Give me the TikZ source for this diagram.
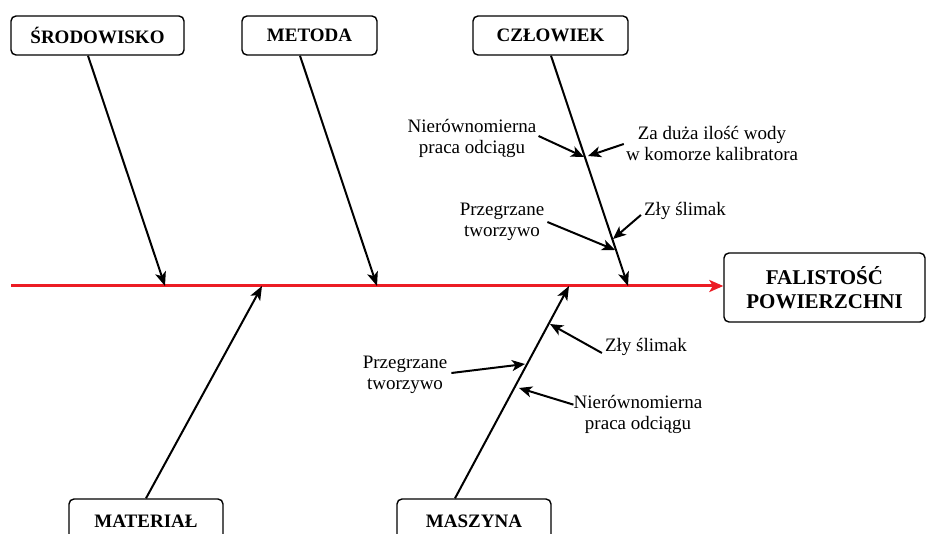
\documentclass[tikz,border=0pt]{standalone}
\usepackage{fontspec}
\setmainfont{LiberationSerif}[Extension=.ttf, UprightFont=*-Regular, BoldFont=*-Bold, ItalicFont=*-Italic, BoldItalicFont=*-BoldItalic]
\usetikzlibrary{arrows.meta,calc}
\definecolor{spinered}{RGB}{236,28,36}
\tikzset{
  x=1pt, y=-1pt,
  catbox/.style={draw, line width=1.4pt, rounded corners=5pt, inner sep=0pt,
    font=\fontsize{19}{21}\selectfont\bfseries, align=center},
  effectbox/.style={catbox, font=\fontsize{21}{24}\selectfont\bfseries},
  cause/.style={font=\fontsize{19}{21}\selectfont, align=center, inner sep=0pt},
  bone/.style={line width=2pt, -{Stealth[length=14pt,width=11pt,inset=3.5pt]}},
  twig/.style={line width=2pt, -{Stealth[length=13pt,width=11pt,inset=3.5pt]}},
  spine/.style={line width=3pt, spinered, -{Stealth[length=14pt,width=12pt,inset=3.5pt]}}
}
\begin{document}
\begin{tikzpicture}
\useasboundingbox (0,0) rectangle (926,534);
\clip (0,0) rectangle (926,534);

% category boxes
\node[catbox, minimum width=173pt, minimum height=39pt] (srod) at (97.5,35.5) {ŚRODOWISKO};
\node[catbox, minimum width=135pt, minimum height=39pt] (met) at (309.5,35.5) {METODA};
\node[catbox, minimum width=155pt, minimum height=39pt] (czl) at (550.5,35.5) {CZŁOWIEK};
\node[catbox, minimum width=154pt, minimum height=44pt] (mat) at (146,521) {MATERIAŁ};
\node[catbox, minimum width=154pt, minimum height=44pt] (masz) at (474,521) {MASZYNA};

% effect box
\node[effectbox, minimum width=201pt, minimum height=69pt] (eff) at (824.5,287.5) {FALISTOŚĆ\\POWIERZCHNI};

% main spine
\coordinate (tail) at (11,286);
\draw[spine] (tail) -- (eff.west |- tail);

% junctions on the spine
\coordinate (jS) at (165,286);
\coordinate (jMe) at (377,286);
\coordinate (jC) at (628,286);
\coordinate (jMa) at (262,286);
\coordinate (jMz) at (569,286);

% bones
\draw[bone] ([xshift=-9.5pt]srod.south) -- (jS);
\draw[bone] ([xshift=-9.5pt]met.south) -- (jMe);
\draw[bone] ([xshift=0.5pt]czl.south) -- (jC);
\draw[bone] ([xshift=0pt]mat.north) -- (jMa);
\draw[bone] ([xshift=-19pt]masz.north) -- (jMz);

% causes on the CZŁOWIEK bone
\node[cause] (c1) at (472,138) {Nierównomierna\\praca odciągu};
\node[cause] (c2) at (712,143) {Za duża ilość wody\\w komorze kalibratora};
\node[cause] (c3) at (502,222) {Przegrzane\\tworzywo};
\node[cause] (c4) at (685,211) {Zły ślimak};
\coordinate (t1) at (584,157);
\coordinate (t2) at (588,156);
\coordinate (t3) at (615,250);
\coordinate (t4) at (613,239);
\draw[twig] ([xshift=2pt,yshift=2pt]c1.east) -- (t1);
\draw[twig] ([xshift=-2pt,yshift=-1pt]c2.west) -- (t2);
\draw[twig] ([xshift=3pt]c3.east) -- (t3);
\draw[twig] ([xshift=-3pt,yshift=-4pt]c4.west) -- (t4);

% causes on the MASZYNA bone
\node[cause] (d1) at (646,347) {Zły ślimak};
\node[cause] (d2) at (405,375) {Przegrzane\\tworzywo};
\node[cause] (d3) at (638,414) {Nierównomierna\\praca odciągu};
\coordinate (u1) at (550,324);
\coordinate (u2) at (525,364);
\coordinate (u3) at (519,388);
\draw[twig] ([xshift=-3pt,yshift=-6pt]d1.west) -- (u1);
\draw[twig] ([xshift=4pt,yshift=2pt]d2.east) -- (u2);
\draw[twig] ([xshift=0pt,yshift=-10pt]d3.north west) -- (u3);
\end{tikzpicture}
\end{document}
